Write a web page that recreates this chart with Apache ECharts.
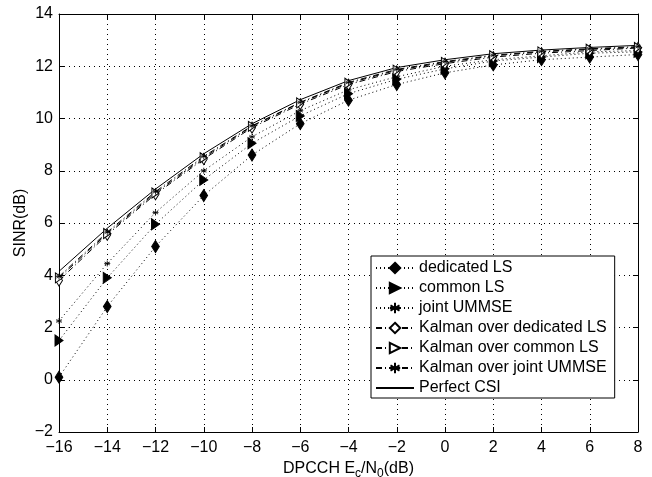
<!DOCTYPE html>
<html>
<head>
<meta charset="utf-8">
<script src="https://cdn.jsdelivr.net/npm/echarts@6/dist/echarts.min.js"></script>
<style>html,body{margin:0;padding:0;background:#fff}#c{width:652px;height:477px}</style>
</head>
<body>
<div id="c"></div>
<script>
const xValues = [-16, -14, -12, -10, -8, -6, -4, -2, 0, 2, 4, 6, 8];
const dedicatedLS = [0.1, 2.8, 5.1, 7.05, 8.6, 9.8, 10.7, 11.3, 11.75, 12.05, 12.25, 12.35, 12.45];
const commonLS = [1.5, 3.9, 5.95, 7.65, 9.05, 10.1, 10.95, 11.5, 11.9, 12.2, 12.35, 12.5, 12.55];
const jointUMMSE = [2.25, 4.45, 6.4, 8.0, 9.3, 10.3, 11.1, 11.6, 12.0, 12.25, 12.4, 12.55, 12.6];
const kalmanDedicated = [3.8, 5.55, 7.1, 8.45, 9.65, 10.55, 11.3, 11.8, 12.1, 12.35, 12.5, 12.6, 12.7];
const kalmanCommon = [3.9, 5.6, 7.15, 8.5, 9.7, 10.6, 11.35, 11.85, 12.15, 12.4, 12.55, 12.65, 12.72];
const kalmanJoint = [3.95, 5.65, 7.2, 8.55, 9.72, 10.62, 11.38, 11.88, 12.18, 12.42, 12.57, 12.67, 12.75];
const perfectCSI = [4.15, 5.8, 7.3, 8.65, 9.8, 10.72, 11.45, 11.95, 12.25, 12.48, 12.62, 12.72, 12.8];
const seriesNames = ['dedicated LS', 'common LS', 'joint UMMSE', 'Kalman over dedicated LS', 'Kalman over common LS', 'Kalman over joint UMMSE', 'Perfect CSI'];
const xTicks = {min: -16, max: 8, interval: 2};
const yTicks = {min: -2, max: 14, interval: 2};

const FONT = '"Liberation Sans", Arial, sans-serif';
const pair = arr => xValues.map((x, i) => [x, arr[i]]);
const DIAMOND = 'path://M0,-1.3 L1,0 L0,1.3 L-1,0 Z';
const TRI_R = 'path://M0,0 L1.6,1 L0,2 Z';
const STAR = 'path://M0,-1 L0,1 M-0.87,-0.5 L0.87,0.5 M-0.87,0.5 L0.87,-0.5 M-1,0 L1,0';
const dotted = {color: '#000', width: 1, type: [1, 3]};
const dashdot = {color: '#000', width: 1, type: [6, 3, 1, 3]};
const neg = v => (v < 0 ? '\u2212' + (-v) : '' + v);

function mk(name, data, symbol, size, filled, line, bw) {
  return {
    name, type: 'line', data: pair(data), symbol, symbolSize: size,
    showSymbol: symbol !== 'none', symbolKeepAspect: true,
    lineStyle: line,
    itemStyle: {color: filled ? '#000' : '#fff', borderColor: '#000', borderWidth: bw || 1},
    emphasis: {disabled: true}, animation: false, z: 3
  };
}

const chart = echarts.init(document.getElementById('c'), null, {renderer: 'canvas'});
const axisLine = {show: true, onZero: false, lineStyle: {color: '#000', width: 1}};
const axisTickIn = {show: true, inside: true, length: 5, lineStyle: {color: '#000'}};
const gridLine = {show: true, lineStyle: {color: '#000', width: 1, type: [1, 4]}};
chart.setOption({
  animation: false,
  backgroundColor: '#fff',
  grid: {left: 59, right: 14, top: 14, bottom: 45, show: false, containLabel: false, outerBoundsMode: 'none'},
  xAxis: [{
    type: 'value', min: xTicks.min, max: xTicks.max, interval: xTicks.interval,
    axisLine, axisTick: axisTickIn,
    axisLabel: {color: '#000', fontSize: 16, fontFamily: FONT, margin: 8, formatter: neg},
    splitLine: gridLine,
    name: 'DPCCH E{s|c}/N{s|0}(dB)', nameLocation: 'middle', nameGap: 20,
    nameTextStyle: {color: '#000', fontSize: 16, fontFamily: FONT,
      rich: {s: {fontSize: 12, fontFamily: FONT, color: '#000', verticalAlign: 'bottom', padding: [9, 0, 0, 0]}}}
  }, {
    type: 'value', position: 'top', min: xTicks.min, max: xTicks.max, interval: xTicks.interval,
    axisLine, axisTick: axisTickIn, axisLabel: {show: false}, splitLine: {show: false}
  }],
  yAxis: [{
    type: 'value', min: yTicks.min, max: yTicks.max, interval: yTicks.interval,
    axisLine, axisTick: axisTickIn,
    axisLabel: {color: '#000', fontSize: 16, fontFamily: FONT, margin: 6, formatter: neg},
    splitLine: gridLine,
    name: 'SINR(dB)', nameLocation: 'middle', nameGap: 30, nameRotate: 90, nameMoveOverlap: false,
    nameTextStyle: {color: '#000', fontSize: 16, fontFamily: FONT}
  }, {
    type: 'value', position: 'right', min: yTicks.min, max: yTicks.max, interval: yTicks.interval,
    axisLine, axisTick: axisTickIn, axisLabel: {show: false}, splitLine: {show: false}
  }],
  legend: {
    orient: 'vertical', left: 371, top: 256,
    data: seriesNames.map(n => n === 'Perfect CSI'
      ? {name: n, itemStyle: {color: 'rgba(0,0,0,0)', borderColor: 'rgba(0,0,0,0)', borderWidth: 0}}
      : n),
    backgroundColor: '#fff', borderColor: '#000', borderWidth: 1,
    padding: [4, 8, 2, 4], itemGap: 4, itemWidth: 38, itemHeight: 13,
    textStyle: {color: '#000', fontSize: 16, fontFamily: FONT},
    inactiveColor: '#000', selectedMode: false
  },
  series: [
    mk(seriesNames[0], dedicatedLS, DIAMOND, [10, 12], true, dotted),
    mk(seriesNames[1], commonLS, TRI_R, [10, 11], true, dotted),
    mk(seriesNames[2], jointUMMSE, STAR, 6, true, dotted, 0.8),
    mk(seriesNames[3], kalmanDedicated, DIAMOND, [9, 11], false, dashdot),
    mk(seriesNames[4], kalmanCommon, TRI_R, [9, 10], false, dashdot),
    mk(seriesNames[5], kalmanJoint, STAR, 6, true, dashdot, 0.8),
    mk(seriesNames[6], perfectCSI, 'none', 0, true, {color: '#000', width: 1, type: 'solid'})
  ]
});
</script>
</body>
</html>
